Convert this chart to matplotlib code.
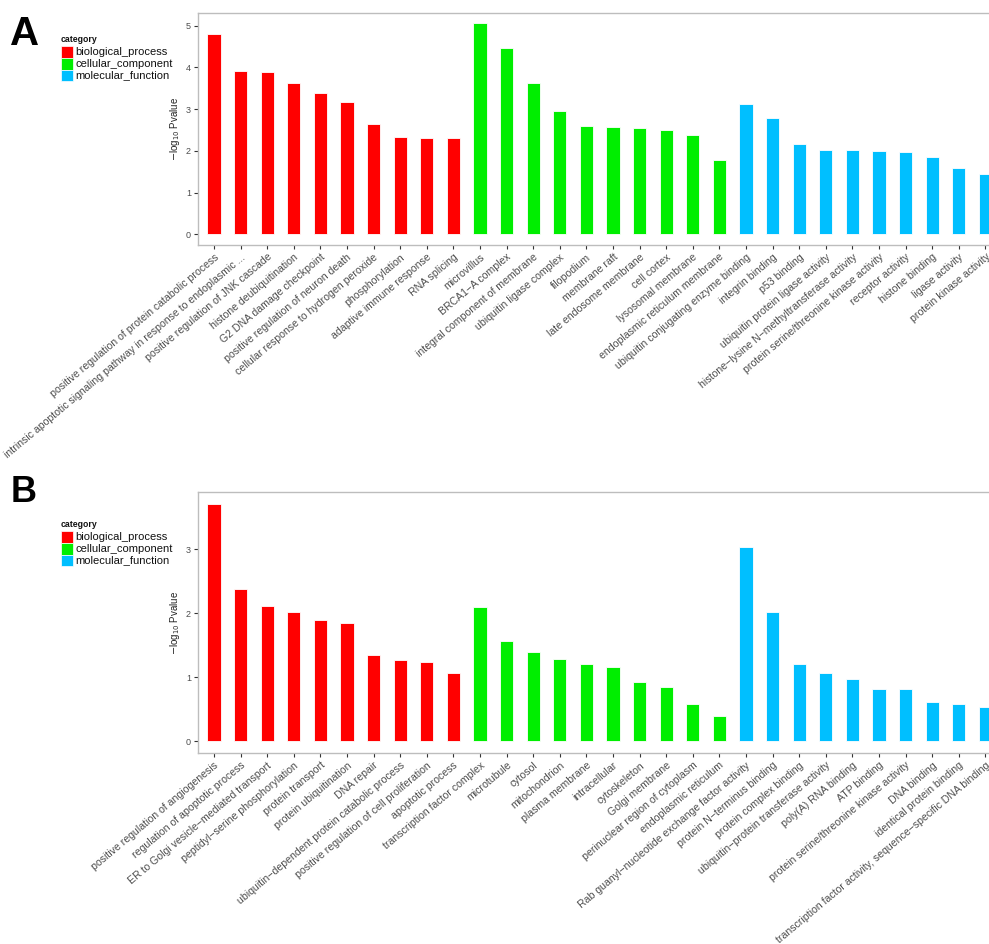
import matplotlib
matplotlib.use("Agg")
import matplotlib.pyplot as plt
from matplotlib.patches import Rectangle

plt.rcParams['font.family'] = ['Liberation Sans', 'DejaVu Sans']

CAT_COLORS = {"biological_process": "#FF0000",
              "cellular_component": "#00EE00",
              "molecular_function": "#00BFFF"}
CATS = ["biological_process", "cellular_component", "molecular_function"]

# Panel A terms and -log10 P values
a_bp_terms = ["positive regulation of protein catabolic process",
              "intrinsic apoptotic signaling pathway in response to endoplasmic ...",
              "positive regulation of JNK cascade",
              "histone deubiquitination",
              "G2 DNA damage checkpoint",
              "positive regulation of neuron death",
              "cellular response to hydrogen peroxide",
              "phosphorylation",
              "adaptive immune response",
              "RNA splicing"]
a_bp_vals = [4.80, 3.91, 3.90, 3.64, 3.38, 3.17, 2.65, 2.33, 2.32, 2.30]
a_cc_terms = ["microvillus", "BRCA1\u2212A complex", "integral component of membrane",
              "ubiquitin ligase complex", "filopodium", "membrane raft",
              "late endosome membrane", "cell cortex", "lysosomal membrane",
              "endoplasmic reticulum membrane"]
a_cc_vals = [5.06, 4.46, 3.62, 2.95, 2.60, 2.58, 2.56, 2.50, 2.38, 1.79]
a_mf_terms = ["ubiquitin conjugating enzyme binding", "integrin binding", "p53 binding",
              "ubiquitin protein ligase activity",
              "histone\u2212lysine N\u2212methyltransferase activity",
              "protein serine/threonine kinase activity", "receptor activity",
              "histone binding", "ligase activity", "protein kinase activity"]
a_mf_vals = [3.13, 2.78, 2.16, 2.03, 2.02, 1.99, 1.97, 1.86, 1.60, 1.46]

# Panel B terms and -log10 P values
b_bp_terms = ["positive regulation of angiogenesis", "regulation of apoptotic process",
              "ER to Golgi vesicle\u2212mediated transport",
              "peptidyl\u2212serine phosphorylation", "protein transport",
              "protein ubiquitination", "DNA repair",
              "ubiquitin\u2212dependent protein catabolic process",
              "positive regulation of cell proliferation", "apoptotic process"]
b_bp_vals = [3.71, 2.38, 2.11, 2.02, 1.90, 1.85, 1.35, 1.27, 1.24, 1.07]
b_cc_terms = ["transcription factor complex", "microtubule", "cytosol", "mitochondrion",
              "plasma membrane", "intracellular", "cytoskeleton", "Golgi membrane",
              "perinuclear region of cytoplasm", "endoplasmic reticulum"]
b_cc_vals = [2.09, 1.57, 1.39, 1.28, 1.21, 1.16, 0.92, 0.85, 0.58, 0.39]
b_mf_terms = ["Rab guanyl\u2212nucleotide exchange factor activity",
              "protein N\u2212terminus binding", "protein complex binding",
              "ubiquitin\u2212protein transferase activity", "poly(A) RNA binding",
              "ATP binding", "protein serine/threonine kinase activity", "DNA binding",
              "identical protein binding",
              "transcription factor activity, sequence\u2212specific DNA binding"]
b_mf_vals = [3.04, 2.02, 1.21, 1.07, 0.98, 0.82, 0.82, 0.62, 0.59, 0.53]

W, H = 989, 944
fig = plt.figure(figsize=(W / 100, H / 100), dpi=100)

AXIS_GREY = "#BDBDBD"
TEXT_GREY = "#4D4D4D"


def draw_panel(top_px, bottom_px, groups, letter, letter_xy, letter_size, legend_top_px):
    terms, vals, cols = [], [], []
    for cat, t, v in groups:
        terms += t
        vals += v
        cols += [CAT_COLORS[cat]] * len(t)
    n = len(terms)
    unit = 26.6
    left_px = 198
    width_px = (n - 1 + 1.2) * unit
    ax = fig.add_axes([left_px / W, 1 - bottom_px / H, width_px / W, (bottom_px - top_px) / H])
    x = list(range(n))
    ax.bar(x, vals, width=0.5, color=cols, edgecolor="white", linewidth=0.6)
    ymax = max(vals)
    ax.set_xlim(-0.6, n - 1 + 0.6)
    ax.set_ylim(-0.05 * ymax, 1.05 * ymax)
    ax.set_xticks(x)
    ax.set_xticklabels(terms, rotation=40, ha="right", va="top",
                       rotation_mode="anchor", fontsize=7.6)
    for lab, c in zip(ax.get_xticklabels(), cols):
        lab.set_color(c)
    ax.yaxis.set_major_locator(matplotlib.ticker.MultipleLocator(1))
    ax.tick_params(axis="both", colors="#333333", length=3, width=0.8,
                   labelsize=6.5, labelcolor=TEXT_GREY)
    ax.tick_params(axis="x", pad=2)
    ax.tick_params(axis="y", pad=2)
    for lab in ax.get_xticklabels():
        lab.set_fontsize(7.6)
    for s in ax.spines.values():
        s.set_color(AXIS_GREY)
        s.set_linewidth(1.0)
    ax.set_ylabel(r"$-$log$_{10}$ Pvalue", fontsize=7, color="#222222", labelpad=3)

    fig.text(letter_xy[0] / W, 1 - letter_xy[1] / H, letter, fontsize=letter_size,
             fontweight="bold", ha="left", va="top")

    # legend block
    fig.text(61 / W, 1 - legend_top_px / H, "category", fontsize=6.3, fontweight="bold",
             ha="left", va="bottom", color="#111111")
    key_h = 11.8
    for i, cat in enumerate(CATS):
        y0 = legend_top_px + 2 + i * key_h
        fig.patches.append(Rectangle((61 / W, 1 - (y0 + key_h) / H), 12 / W, key_h / H,
                                     transform=fig.transFigure, facecolor=CAT_COLORS[cat],
                                     edgecolor="white", linewidth=0.5))
        fig.text(75 / W, 1 - (y0 + key_h / 2) / H, cat, fontsize=8,
                 ha="left", va="center", color="#111111")
    return ax


draw_panel(12.7, 245,
           [("biological_process", a_bp_terms, a_bp_vals),
            ("cellular_component", a_cc_terms, a_cc_vals),
            ("molecular_function", a_mf_terms, a_mf_vals)],
           "A", (10, 15), 29, 44)
draw_panel(491.7, 753.3,
           [("biological_process", b_bp_terms, b_bp_vals),
            ("cellular_component", b_cc_terms, b_cc_vals),
            ("molecular_function", b_mf_terms, b_mf_vals)],
           "B", (11, 475), 26, 529)

fig.savefig("out.png", dpi=100)
